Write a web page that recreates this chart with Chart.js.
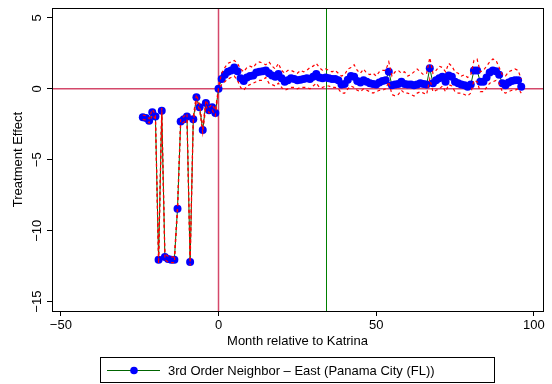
<!DOCTYPE html>
<html>
<head>
<meta charset="utf-8">
<script src="https://cdn.jsdelivr.net/npm/chart.js@4"></script>
<style>
    body { margin: 0; background: #fff; }
    #wrap { position: relative; width: 552px; height: 384px; }
    #legend {
        position: absolute; left: 100px; top: 357px; width: 395px; height: 26px;
        border: 1px solid #000; box-sizing: border-box;
        font: 13px "Liberation Sans", Arial, sans-serif; color: #000;
        display: flex; align-items: center;
    }
    #legend svg { margin-left: 6px; margin-right: 8px; }
</style>
</head>
<body>
<div id="wrap">
    <canvas id="effectChart" width="552" height="384"></canvas>
    <div id="legend">
        <svg width="53" height="11"><line x1="0" y1="5.5" x2="53" y2="5.5" stroke="#006400" stroke-width="1"/><circle cx="27" cy="5.5" r="3.8" fill="#0000ff"/></svg>
        <span>3rd Order Neighbor – East (Panama City (FL))</span>
    </div>
</div>
<script>
// months relative to Katrina (-24 .. 96)
const months = Array.from({ length: 121 }, (_, i) => i - 24);

// point estimates
const estimate = [
    -2.0, -2.05, -2.25, -1.65, -1.95, -12.05, -1.55, -11.85, -12.0, -12.05,
    -12.05, -8.45, -2.3, -2.15, -1.95, -12.2, -2.15, -0.6, -1.3, -2.9,
    -1.0, -1.5, -1.3, -1.7,
    0.0,
    0.7, 1.0, 1.2, 1.3, 1.5, 1.25, 0.75, 0.55, 0.8, 0.9,
    0.95, 1.15, 1.2, 1.25, 1.3, 1.1, 0.95, 0.85, 1.05, 0.75,
    0.5, 0.6, 0.75, 0.7, 0.6, 0.65, 0.7, 0.75, 0.7, 0.85,
    1.05, 0.8, 0.75, 0.8, 0.75, 0.7, 0.7, 0.6, 0.3, 0.35,
    0.65, 0.9, 0.85, 0.55, 0.45, 0.6, 0.5, 0.4, 0.35, 0.3,
    0.45, 0.55, 0.6, 1.2, 0.25, 0.3, 0.35, 0.5, 0.35, 0.3,
    0.3, 0.25, 0.3, 0.4, 0.35, 0.3, 1.45, 0.4, 0.6, 0.75,
    0.85, 0.5, 0.95, 0.85, 0.5, 0.4, 0.3, 0.25, 0.15, 0.3,
    1.3, 1.3, 0.5, 0.5, 0.8, 1.15, 1.3, 1.25, 1.0, 0.4,
    0.25, 0.45, 0.55, 0.6, 0.6, 0.15
];

// confidence band, upper bound
const upperCI = [
    -1.85, -1.9, -2.1, -1.45, -1.8, -11.85, -1.35, -11.65, -11.8, -11.85,
    -11.85, -8.25, -2.1, -1.95, -1.75, -12.0, -1.95, -0.4, -1.1, -2.7,
    -0.8, -1.3, -1.1, -1.5,
    0.1,
    1.1, 1.5, 1.8, 1.9, 2.0, 1.8, 1.4, 1.2, 1.5, 1.6,
    1.5, 1.8, 1.9, 1.8, 1.7, 1.9, 1.6, 1.4, 1.8, 1.3,
    1.1, 1.3, 1.3, 1.2, 1.1, 1.3, 1.2, 1.3, 1.5, 1.6,
    1.8, 1.5, 1.3, 1.4, 1.3, 1.2, 1.3, 1.1, 0.9, 1.0,
    1.4, 1.5, 1.7, 1.3, 1.1, 1.4, 1.1, 1.0, 1.1, 0.9,
    1.2, 1.3, 1.3, 1.9, 0.9, 1.2, 1.3, 1.1, 1.2, 0.9,
    1.0, 1.2, 1.4, 1.2, 1.0, 1.1, 2.2, 1.1, 1.3, 1.6,
    1.5, 1.2, 1.8, 1.6, 1.2, 1.1, 0.9, 1.0, 0.8, 1.0,
    2.0, 2.1, 1.2, 1.3, 1.6, 1.9, 2.1, 2.0, 1.5, 1.0,
    0.9, 1.2, 1.3, 1.4, 1.3, 0.7
];

// confidence band, lower bound
const lowerCI = [
    -2.15, -2.2, -2.4, -1.85, -2.1, -12.3, -1.75, -12.05, -12.2, -12.25,
    -12.25, -8.65, -2.5, -2.35, -2.15, -12.45, -2.35, -0.8, -1.5, -3.1,
    -1.2, -1.7, -1.5, -1.9,
    -0.1,
    0.3, 0.5, 0.7, 0.8, 0.9, 0.6, 0.1, -0.1, 0.2, 0.3,
    0.4, 0.5, 0.6, 0.6, 0.8, 0.4, 0.3, 0.2, 0.4, 0.1,
    -0.1, 0.0, 0.1, 0.1, 0.0, 0.1, 0.1, 0.1, 0.0, 0.2,
    0.4, 0.1, 0.1, 0.2, 0.2, 0.1, 0.1, 0.0, -0.3, -0.3,
    0.0, 0.2, 0.1, -0.1, -0.2, 0.0, -0.1, -0.2, -0.3, -0.2,
    -0.1, -0.1, 0.0, 0.5, -0.4, -0.5, -0.4, -0.1, -0.3, -0.3,
    -0.4, -0.5, -0.3, -0.2, -0.3, -0.4, 0.7, -0.2, -0.1, 0.0,
    0.2, -0.2, 0.3, 0.2, -0.2, -0.3, -0.3, -0.4, -0.5, -0.3,
    0.6, 0.5, -0.2, -0.2, 0.1, 0.4, 0.5, 0.6, 0.4, -0.2,
    -0.3, -0.2, -0.1, -0.1, 0.0, -0.3
];

const xTicks = [-50, 0, 50, 100];
const yTicks = [-15, -10, -5, 0, 5];
const katrinaMonth = 0;
const markerMonth = 34;

const FONT = '"Liberation Sans", Arial, sans-serif';

function minusSign(v) {
    return v < 0 ? '\u2212' + Math.abs(v) : String(v);
}

function toPoints(values) {
    return months.map((m, i) => ({ x: m, y: values[i] }));
}

// reference lines, plot frame and rotated y axis labels (Stata look)
const stataFrame = {
    id: 'stataFrame',
    beforeDatasetsDraw(chart) {
        const { ctx, chartArea: a, scales: { x, y } } = chart;
        ctx.save();
        ctx.lineWidth = 1.5;
        ctx.strokeStyle = '#d4486a';
        const x0 = x.getPixelForValue(katrinaMonth);
        const y0 = y.getPixelForValue(0);
        ctx.beginPath();
        ctx.moveTo(x0, a.top); ctx.lineTo(x0, a.bottom);
        ctx.moveTo(a.left, y0); ctx.lineTo(a.right, y0);
        ctx.stroke();
        ctx.lineWidth = 1;
        ctx.strokeStyle = '#008000';
        const x34 = Math.round(x.getPixelForValue(markerMonth)) + 0.5;
        ctx.beginPath();
        ctx.moveTo(x34, a.top); ctx.lineTo(x34, a.bottom);
        ctx.stroke();
        ctx.restore();
    },
    afterDraw(chart) {
        const { ctx, chartArea: a, scales: { y } } = chart;
        ctx.save();
        ctx.strokeStyle = '#000';
        ctx.lineWidth = 1;
        ctx.strokeRect(Math.round(a.left) + 0.5, Math.round(a.top) + 0.5,
            Math.round(a.right - a.left), Math.round(a.bottom - a.top));

        ctx.fillStyle = '#000';
        ctx.font = '13px ' + FONT;
        ctx.textAlign = 'center';
        ctx.textBaseline = 'middle';
        yTicks.forEach(v => {
            const py = y.getPixelForValue(v);
            ctx.save();
            ctx.translate(37, py);
            ctx.rotate(-Math.PI / 2);
            ctx.fillText(minusSign(v), 0, 0);
            ctx.restore();
        });
        ctx.save();
        ctx.translate(18, (a.top + a.bottom) / 2);
        ctx.rotate(-Math.PI / 2);
        ctx.fillText('Treatment Effect', 0, 0);
        ctx.restore();
        ctx.restore();
    }
};

function createEffectChart() {
    const ctx = document.getElementById('effectChart').getContext('2d');

    new Chart(ctx, {
        type: 'scatter',
        data: {
            datasets: [
                {
                    label: '3rd Order Neighbor – East (Panama City (FL))',
                    data: toPoints(estimate),
                    order: 2,
                    showLine: true,
                    borderColor: '#006400',
                    borderWidth: 1,
                    pointRadius: 4,
                    pointBackgroundColor: '#0000ff',
                    pointBorderColor: '#0000ff',
                    pointBorderWidth: 0,
                    fill: false
                },
                {
                    label: 'Upper CI',
                    data: toPoints(upperCI),
                    order: 1,
                    showLine: true,
                    borderColor: '#ff0000',
                    borderWidth: 1.2,
                    borderDash: [3, 3],
                    pointRadius: 0,
                    fill: false
                },
                {
                    label: 'Lower CI',
                    data: toPoints(lowerCI),
                    order: 1,
                    showLine: true,
                    borderColor: '#ff0000',
                    borderWidth: 1.2,
                    borderDash: [3, 3],
                    pointRadius: 0,
                    fill: false
                }
            ]
        },
        options: {
            responsive: false,
            animation: false,
            layout: { padding: { top: 8, right: 9, left: 0, bottom: 0 } },
            plugins: {
                legend: { display: false },
                tooltip: { enabled: false }
            },
            scales: {
                x: {
                    type: 'linear',
                    min: -52.8,
                    max: 102.9,
                    afterBuildTicks: s => { s.ticks = xTicks.map(v => ({ value: v })); },
                    afterFit: s => { s.height = 73; },
                    grid: { drawOnChartArea: false, drawTicks: true, tickLength: 5, color: '#000' },
                    border: { color: '#000' },
                    ticks: {
                        padding: 2,
                        color: '#000',
                        maxRotation: 0,
                        autoSkip: false,
                        font: { family: FONT, size: 13 },
                        callback: v => minusSign(v)
                    },
                    title: {
                        display: true,
                        text: 'Month relative to Katrina',
                        color: '#000',
                        font: { family: FONT, size: 13 },
                        padding: { top: 0, bottom: 35 }
                    }
                },
                y: {
                    type: 'linear',
                    min: -15.66,
                    max: 5.7,
                    afterBuildTicks: s => { s.ticks = yTicks.map(v => ({ value: v })); },
                    afterFit: s => { s.width = 52; },
                    grid: { drawOnChartArea: false, drawTicks: true, tickLength: 5, color: '#000' },
                    border: { color: '#000' },
                    ticks: { display: false }
                }
            }
        },
        plugins: [stataFrame]
    });
}

window.addEventListener('DOMContentLoaded', function() {
    createEffectChart();
});
</script>
</body>
</html>
